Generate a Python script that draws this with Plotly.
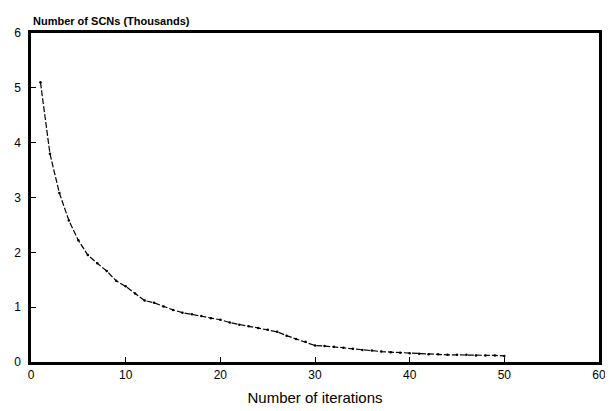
import plotly.graph_objects as go

iterations = list(range(1, 51))
scns_thousands = [5.10, 3.80, 3.08, 2.58, 2.22, 1.95, 1.80, 1.66, 1.48, 1.38,
                  1.25, 1.12, 1.08, 1.01, 0.95, 0.90, 0.87, 0.84, 0.80, 0.77,
                  0.72, 0.68, 0.65, 0.62, 0.59, 0.55, 0.48, 0.42, 0.37, 0.30,
                  0.29, 0.28, 0.26, 0.24, 0.22, 0.21, 0.19, 0.18, 0.17, 0.16,
                  0.15, 0.14, 0.14, 0.13, 0.13, 0.13, 0.12, 0.12, 0.12, 0.11]

x_ticks = [0, 10, 20, 30, 40, 50, 60]
y_ticks = [0, 1, 2, 3, 4, 5, 6]

fig = go.Figure()
fig.add_trace(go.Scatter(
    x=iterations, y=scns_thousands, mode="lines+markers",
    line=dict(color="black", width=1.2, dash="6px,2px"),
    marker=dict(color="black", size=2.5),
    showlegend=False,
))

fnt = "Liberation Sans, Arial, sans-serif"
# page body has an 8px default margin, so the figure is sized to fit the window
fig.update_layout(
    width=605, height=403,
    margin=dict(l=23, r=14, t=25, b=49),
    paper_bgcolor="white", plot_bgcolor="white",
    font=dict(family=fnt, color="black", size=12),
    xaxis=dict(range=[0, 60], tickvals=x_ticks, ticks="inside", ticklen=5,
               tickcolor="black", showline=True, linecolor="black", linewidth=2.5,
               mirror=True, showgrid=False, zeroline=False, automargin=False,
               title=dict(text="Number of iterations", font=dict(size=15), standoff=12),
               tickfont=dict(size=12)),
    yaxis=dict(range=[0, 6], tickvals=y_ticks, ticks="inside", ticklen=5,
               tickcolor="black", showline=True, linecolor="black", linewidth=2.5,
               mirror=True, showgrid=False, zeroline=False, automargin=False,
               ticklabelstandoff=5, tickfont=dict(size=12)),
    annotations=[dict(text="<b>Number of SCNs (Thousands)</b>", xref="paper", yref="paper",
                      x=0, y=1, xanchor="left", yanchor="bottom", yshift=4,
                      showarrow=False, font=dict(size=11, family=fnt))],
)

fig.write_html("out.html")
